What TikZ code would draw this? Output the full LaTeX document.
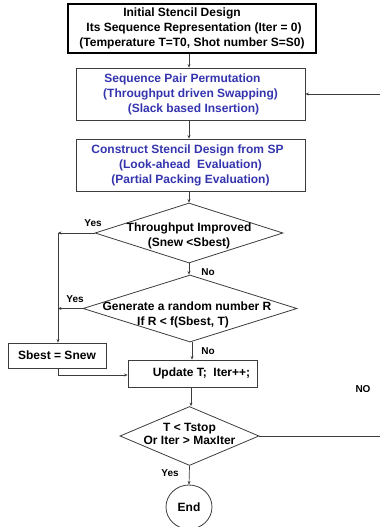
\documentclass[tikz,border=0pt]{standalone}
\usepackage{fontspec}
\setmainfont{Liberation Sans}
\usetikzlibrary{shapes.geometric,arrows.meta}
\definecolor{txtblue}{RGB}{52,52,175}
\definecolor{linegray}{RGB}{60,60,60}
\tikzset{
  every node/.style={font=\bfseries\fontsize{12}{15}\selectfont},
  box/.style={draw=linegray, line width=0.8pt, rectangle, inner sep=0pt, align=center},
  dia/.style={draw=linegray, line width=0.8pt, diamond, inner sep=0pt},
  txt/.style={align=center, inner sep=0pt},
  lbl/.style={font=\bfseries\fontsize{10}{11}\selectfont, inner sep=0pt},
  arr/.style={draw=linegray, line width=0.7pt, -{Stealth[length=3.5pt,width=3pt]}},
  ln/.style={draw=linegray, line width=0.7pt},
}
\begin{document}
\begin{tikzpicture}[x=1pt,y=-1pt]
\useasboundingbox (0,0) rectangle (383,527);
\node[box, draw=black, line width=1.3pt, minimum width=248, minimum height=49] (box1) at (192,28.5)
  {Initial Stencil Design\hspace*{20pt}\\ \hspace*{4pt}Its Sequence Representation (Iter = 0)\\(Temperature T=T0, Shot number S=S0)};
\node[box, text=txtblue, minimum width=229, minimum height=52] (box2) at (190.5,94)
  {Sequence Pair Permutation\hspace*{16pt}\\(Throughput driven Swapping)\hspace*{10pt}\\\hspace*{6pt}(Slack based Insertion)};
\node[box, text=txtblue, minimum width=229, minimum height=52] (box3) at (190.5,165)
  {Construct Stencil Design from SP\hspace*{6pt}\\(Look-ahead\ \ Evaluation)\hspace*{10pt}\\(Partial Packing Evaluation)};
\node[dia, minimum width=188, minimum height=60] (d1) at (189,233) {};
\node[txt] (t1) at ([yshift=-2.5pt]d1.center) {Throughput Improved\\(Snew <Sbest)};
\node[dia, minimum width=214, minimum height=67] (d2) at (190,308.5) {};
\node[txt] (t2) at ([xshift=-3pt,yshift=-6pt]d2.center) {Generate a random number R\\If R < f(Sbest, T)\hspace*{8pt}};
\node[box, minimum width=98, minimum height=25] (sbest) at (57,355.5) {Sbest = Snew};
\node[box, minimum width=129, minimum height=27] (upd) at (192.5,373.5) {\hspace*{18pt}Update T;\ \ Iter++;};
\node[dia, minimum width=139, minimum height=59] (d3) at (189.5,436) {};
\node[txt, font=\bfseries\fontsize{12}{13.5}\selectfont] (t3) at ([yshift=2pt]d3.center) {T < Tstop\\Or Iter > MaxIter};
\node[draw=linegray, line width=0.8pt, ellipse, minimum width=46, minimum height=44, inner sep=0pt] (end) at (189,507) {End};

\coordinate (c1) at (58,233);
\coordinate (c2) at (58,308.5);
\coordinate (r1) at (380,436);
\coordinate (r2) at (380,94);

\draw[arr] (box1.south -| 189,0) -- (box2.north -| 189,0);
\draw[arr] (box2.south -| 189,0) -- (box3.north -| 189,0);
\draw[arr] (box3.south -| 189,0) -- (d1.north);
\draw[arr] (d1.south) -- (d2.north -| d1.south);
\draw[arr] (d2.south -| 192,0) -- (upd.north -| 192,0);
\draw[arr] (upd.south -| 191,0) -- (d3.north -| 191,0);
\draw[arr] (d3.south) -- (end.north);
\draw[arr] (d1.west) -- (c1);
\draw[arr] (c1) -- (sbest.north -| c1);
\draw[arr] (d2.west) -- (c2);
\draw[arr] (sbest.south -| c1) |- (upd.west |- 0,375);
\draw[ln] (d3.east) -- (r1);
\draw[arr] (r2) -- (box2.east);

\node[lbl] (y1) at (93,223) {Yes};
\node[lbl] (y2) at (75,299) {Yes};
\node[lbl] (y3) at (170,473) {Yes};
\node[lbl] (n1) at (208,272) {No};
\node[lbl] (n2) at (208,351) {No};
\node[lbl] (n3) at (363,389) {NO};
\end{tikzpicture}
\end{document}
